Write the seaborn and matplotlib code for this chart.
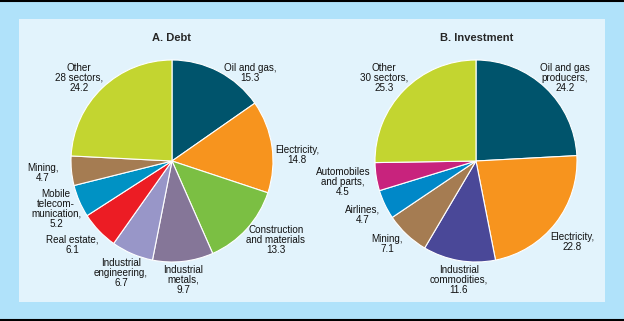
import matplotlib
matplotlib.use("Agg")
import matplotlib.pyplot as plt
import seaborn as sns
from matplotlib.patches import Rectangle
from matplotlib.lines import Line2D

sns.set_style("white")
plt.rcParams['font.family'] = ['Liberation Sans', 'DejaVu Sans']

# ---- data ----
debt_labels = ["Oil and gas,\n15.3", "Electricity,\n14.8", "Construction\nand materials\n13.3",
               "Industrial\nmetals,\n9.7", "Industrial\nengineering,\n6.7", "Real estate,\n6.1",
               "Mobile\ntelecom-\nmunication,\n5.2", "Mining,\n4.7", "Other\n28 sectors,\n24.2"]
debt_values = [15.3, 14.8, 13.3, 9.7, 6.7, 6.1, 5.2, 4.7, 24.2]
debt_colors = ["#00546c", "#f7941e", "#7bbf43", "#857698", "#9896c8", "#ec1c24",
               "#0092c4", "#a57c52", "#c3d530"]

inv_labels = ["Oil and gas\nproducers,\n24.2", "Electricity,\n22.8", "Industrial\ncommodities,\n11.6",
              "Mining,\n7.1", "Airlines,\n4.7", "Automobiles\nand parts,\n4.5", "Other\n30 sectors,\n25.3"]
inv_values = [24.2, 22.8, 11.6, 7.1, 4.7, 4.5, 25.3]
inv_colors = ["#00546c", "#f7941e", "#4a4898", "#a57c52", "#0088c8", "#c8237d", "#c3d530"]

# label text centres (pixel coords, y from top)
debt_label_pos = [(250, 73), (297, 155), (276, 240), (183, 280), (121, 273),
                  (72, 245), (56, 209), (43, 173), (79, 78)]
inv_label_pos = [(565, 78), (572, 242), (459, 280), (387, 244), (363, 215),
                 (343, 182), (384, 78)]

W, H = 624, 321
fig = plt.figure(figsize=(W / 100, H / 100), dpi=100)
fig.patch.set_facecolor("#b0e2fa")

ax = fig.add_axes([0, 0, 1, 1])
ax.set_facecolor("none")

ax.add_patch(Rectangle((19, H - 302), 586, 283, facecolor="#e2f3fc", edgecolor="none", zorder=0))

wp = dict(edgecolor="white", linewidth=0.8)
ax.pie(debt_values, colors=debt_colors, startangle=90, counterclock=False,
       center=(172, H - 161), radius=101, wedgeprops=wp, frame=True)
ax.pie(inv_values, colors=inv_colors, startangle=90, counterclock=False,
       center=(476, H - 161), radius=101, wedgeprops=wp, frame=True)

ax.set_xlim(0, W)
ax.set_ylim(0, H)
ax.set_aspect("auto")
ax.axis("off")

for txt, (x, y) in zip(debt_labels, debt_label_pos):
    ax.text(x, H - y, txt, ha="center", va="center", fontsize=7.1, linespacing=1.0, color="#111111")
for txt, (x, y) in zip(inv_labels, inv_label_pos):
    ax.text(x, H - y, txt, ha="center", va="center", fontsize=7.1, linespacing=1.0, color="#111111")

ax.text(172, H - 38, "A. Debt", ha="center", va="center", fontsize=8, fontweight="bold")
ax.text(477, H - 38, "B. Investment", ha="center", va="center", fontsize=8, fontweight="bold")

ax.add_line(Line2D([0, W], [H - 1, H - 1], color="black", linewidth=1.5))
ax.add_line(Line2D([0, W], [H - 319.5, H - 319.5], color="black", linewidth=1.5))

fig.savefig("out.png", dpi=100)
